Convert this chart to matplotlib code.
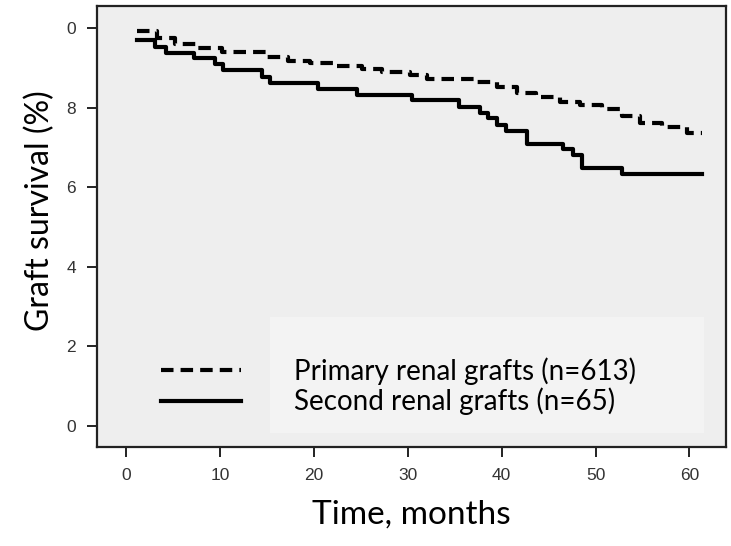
import numpy as np
import matplotlib
matplotlib.use("Agg")
import matplotlib.pyplot as plt
from matplotlib.patches import Rectangle

# ------------------------------------------------
# Data
# ------------------------------------------------
primary_t = [1.2, 3.3, 5.2, 7.5, 10.2, 15.0, 17.2, 19.6, 22.4, 25.1, 27.3, 30.2,
             32.1, 37.1, 39.5, 41.6, 43.7, 46.2, 48.3, 50.7, 52.8, 54.7, 57.1, 59.7, 61.3]
primary_s = [99.2, 97.5, 96.0, 95.0, 94.0, 92.7, 91.7, 91.2, 90.5, 89.7, 89.0, 88.2,
             87.2, 86.4, 85.2, 83.7, 82.7, 81.4, 80.7, 79.6, 77.9, 76.1, 75.1, 73.6, 73.6]

second_t = [1.2, 3.1, 4.2, 7.2, 9.5, 10.3, 14.5, 15.3, 20.4, 24.6, 30.4, 35.5,
            37.7, 38.5, 39.5, 40.5, 42.7, 46.5, 47.6, 48.6, 52.8, 61.3]
second_s = [97.0, 95.2, 93.7, 92.5, 91.0, 89.4, 87.7, 86.2, 84.7, 83.2, 81.8, 80.2,
            78.6, 77.4, 75.6, 74.1, 70.9, 69.6, 68.1, 64.8, 63.3, 63.3]

x_ticks = [0, 10, 20, 30, 40, 50, 60]
y_ticks = [0, 20, 40, 60, 80, 100]
y_labels = ["0", "2", "4", "6", "8", "0"]

labels = ["Primary renal grafts (n=613)", "Second renal grafts (n=65)"]

# ------------------------------------------------
# Figure
# ------------------------------------------------
fig = plt.figure(figsize=(7.31, 5.46), dpi=100)
ax = fig.add_axes([0.1327, 0.1813, 0.8605, 0.8077])
ax.set_facecolor("#eeeeee")

ax.step(primary_t, primary_s, where="post", color="black", lw=3,
        dashes=(3.0, 1.7), label=labels[0])
ax.step(second_t, second_s, where="post", color="black", lw=3,
        label=labels[1])

ax.set_xlim(-3.1, 63.9)
ax.set_ylim(-5.3, 105.5)
ax.set_xticks(x_ticks)
ax.set_yticks(y_ticks)
ax.set_yticklabels(y_labels)

for sp in ax.spines.values():
    sp.set_linewidth(1.6)
    sp.set_color("#222222")

ax.tick_params(direction="out", length=7, width=1.4, colors="#222222",
               labelsize=12.5, pad=8)
for t in ax.get_xticklabels() + ax.get_yticklabels():
    t.set_family("Liberation Sans")
    t.set_color("#333333")

ax.set_xlabel("Time, months", family="Lato", fontsize=24, labelpad=12)
ax.set_ylabel("Graft survival (%)", family="Lato", fontsize=23)
ax.yaxis.set_label_coords(-0.067, 0.535)

# light box behind the legend text
ax.add_patch(Rectangle((0.275, 0.032), 0.69, 0.263, transform=ax.transAxes,
                       facecolor="#f3f3f3", edgecolor="none", zorder=0.5))

leg = ax.legend(loc="upper left", bbox_to_anchor=(0.079, 0.235),
                frameon=False, handlelength=2.9,
                handletextpad=1.9, labelspacing=0.1, borderpad=0,
                prop={"family": "Lato", "size": 20})

fig.savefig("out.png", dpi=100)
